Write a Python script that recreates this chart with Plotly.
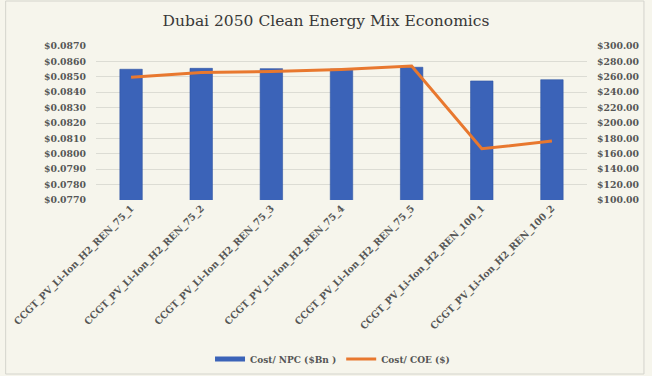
import plotly.graph_objects as go

# Scenario names
scenarios = [
    "CCGT_PV_Li-Ion_H2_REN_75_1",
    "CCGT_PV_Li-Ion_H2_REN_75_2",
    "CCGT_PV_Li-Ion_H2_REN_75_3",
    "CCGT_PV_Li-Ion_H2_REN_75_4",
    "CCGT_PV_Li-Ion_H2_REN_75_5",
    "CCGT_PV_Li-Ion_H2_REN_100_1",
    "CCGT_PV_Li-Ion_H2_REN_100_2",
]
# Net present cost ($Bn) - left axis
npc_cost = [0.08549, 0.08555, 0.08553, 0.08550, 0.08562, 0.08473, 0.08481]
# Cost of energy ($) - right axis
coe_cost = [259.5, 265.5, 267.0, 269.5, 274.0, 166.5, 176.5]

bg = "#f6f5ec"
bar_color = "#3b63b8"
line_color = "#e8782f"
label_font = dict(family="DejaVu Serif", size=9.3, color="#555555", weight="bold")

fig = go.Figure()
fig.add_trace(go.Bar(
    x=scenarios, y=npc_cost, name="Cost/ NPC ($Bn )",
    marker=dict(color=bar_color, line=dict(color="#2f54a3", width=0.6)),
    yaxis="y", showlegend=False,
))
# wide swatch for the bar series in the legend
fig.add_trace(go.Scatter(
    x=[None], y=[None], name="Cost/ NPC ($Bn )", mode="lines",
    line=dict(color=bar_color, width=5), yaxis="y",
))
fig.add_trace(go.Scatter(
    x=scenarios, y=coe_cost, name="Cost/ COE ($)", mode="lines",
    line=dict(color=line_color, width=3),
    yaxis="y2",
))

fig.update_layout(
    width=652, height=376,
    margin=dict(l=93, r=59, t=46, b=176),
    paper_bgcolor=bg, plot_bgcolor=bg,
    bargap=0.68,
    title=dict(
        text="Dubai 2050 Clean Energy Mix Economics",
        x=0.5, xref="container", xanchor="center",
        y=0.945, yref="container", yanchor="middle",
        font=dict(family="DejaVu Serif", size=15.5, color="#383838"),
    ),
    xaxis=dict(
        tickangle=-45,
        tickfont=dict(family="DejaVu Serif", size=9.5, color="#555555", weight="bold"),
        showgrid=False, showline=False, zeroline=False,
    ),
    yaxis=dict(
        range=[0.077, 0.087], dtick=0.001, tickformat=".4f", tickprefix="$",
        tickfont=label_font, showgrid=True, gridcolor="#dcdcd4", gridwidth=1,
        zeroline=False, ticklabelstandoff=9,
    ),
    yaxis2=dict(
        range=[100, 300], dtick=20, tickformat=".2f", tickprefix="$",
        tickfont=label_font, overlaying="y", side="right", showgrid=False,
        zeroline=False, ticklabelstandoff=9,
    ),
    legend=dict(
        orientation="h", x=0.51, xref="container", xanchor="center",
        y=0.045, yref="container", yanchor="middle",
        font=dict(family="DejaVu Serif", size=9, color="#555555", weight="bold"),
        bgcolor="rgba(0,0,0,0)", itemwidth=30,
    ),
    shapes=[dict(
        type="rect", xref="paper", yref="paper",
        x0=(1 - 93) / 500, x1=(651 - 93) / 500,
        y0=(200 - 374) / 154, y1=(200 - 1) / 154,
        line=dict(color="#d4d4cc", width=1), fillcolor="rgba(0,0,0,0)",
        layer="below",
    )],
)

fig.write_html("out.html")
